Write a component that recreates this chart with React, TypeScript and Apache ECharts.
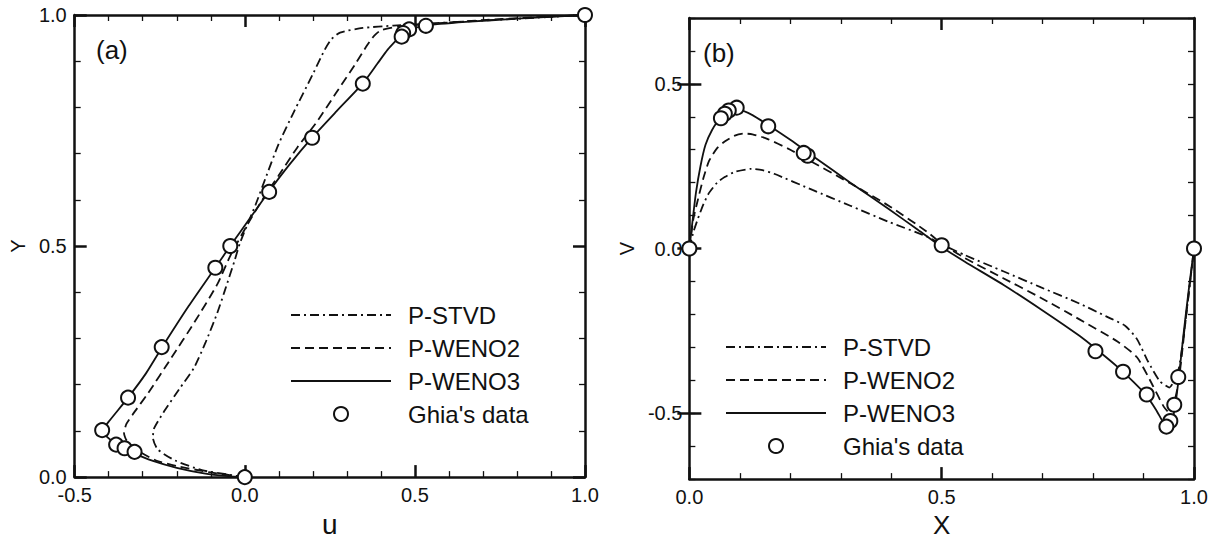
import React, { useEffect, useRef } from "react";
import * as echarts from "echarts";

// ---------- Panel (a): u along vertical centerline ----------
const ghiaY = [1.0, 0.9766, 0.9688, 0.9609, 0.9531, 0.8516, 0.7344, 0.6172, 0.5, 0.4531, 0.2813, 0.1719, 0.1016, 0.0703, 0.0625, 0.0547, 0.0];
const ghiaU = [1, 0.53236, 0.48296, 0.46547, 0.46101, 0.34682, 0.19791, 0.07156, -0.04272, -0.086636, -0.24427, -0.34323, -0.41933, -0.37827, -0.35344, -0.32407, 0];

const stvdAU = [0, -0.026, -0.126, -0.205, -0.256, -0.27, -0.267, -0.239, -0.194, -0.149, -0.115, -0.081, -0.059, -0.031, -0.014, 0.032, 0.06, 0.099, 0.144, 0.2, 0.235, 0.255, 0.28, 0.347, 0.437, 0.6, 0.8, 1];
const stvdAY = [0, 0.003, 0.015, 0.036, 0.06, 0.085, 0.105, 0.14, 0.189, 0.237, 0.292, 0.355, 0.403, 0.466, 0.507, 0.59, 0.645, 0.72, 0.79, 0.872, 0.925, 0.948, 0.962, 0.972, 0.977, 0.984, 0.992, 1];

const weno2AU = [0, -0.1, -0.2, -0.261, -0.32, -0.348, -0.355, -0.348, -0.33, -0.284, -0.216, -0.149, -0.081, -0.042, 0.009, 0.054, 0.099, 0.155, 0.212, 0.268, 0.324, 0.36, 0.38, 0.4, 0.45, 0.55, 0.7, 0.85, 1];
const weno2AY = [0, 0.01, 0.024, 0.036, 0.06, 0.08, 0.095, 0.115, 0.135, 0.182, 0.258, 0.334, 0.417, 0.48, 0.548, 0.603, 0.652, 0.714, 0.769, 0.831, 0.893, 0.935, 0.955, 0.967, 0.975, 0.981, 0.989, 0.995, 1];

const weno3AU = [0, -0.05, -0.12, -0.2, -0.27, -0.33, -0.375, -0.405, -0.418, -0.4, -0.343, -0.29, -0.243, -0.165, -0.087, -0.043, 0.015, 0.07, 0.13, 0.197, 0.27, 0.347, 0.39, 0.42, 0.445, 0.462, 0.48, 0.53, 0.65, 0.8, 1];
const weno3AY = [0, 0.002, 0.008, 0.02, 0.035, 0.053, 0.07, 0.087, 0.101, 0.12, 0.172, 0.225, 0.281, 0.37, 0.453, 0.5, 0.56, 0.617, 0.675, 0.734, 0.792, 0.852, 0.895, 0.925, 0.945, 0.958, 0.967, 0.977, 0.985, 0.992, 1];

// ---------- Panel (b): v along horizontal centerline ----------
const ghiaX = [1.0, 0.9688, 0.9609, 0.9531, 0.9453, 0.9063, 0.8594, 0.8047, 0.5, 0.2344, 0.2266, 0.1563, 0.0938, 0.0781, 0.0703, 0.0625, 0.0];
const ghiaV = [0, -0.39017, -0.47425, -0.52357, -0.54053, -0.44307, -0.37401, -0.31184, 0.00999, 0.28188, 0.2903, 0.37119, 0.42768, 0.41906, 0.40917, 0.3956, 0];

const stvdBX = [0, 0.008, 0.017, 0.028, 0.039, 0.055, 0.07, 0.09, 0.123, 0.145, 0.168, 0.244, 0.319, 0.395, 0.47, 0.5, 0.546, 0.622, 0.697, 0.773, 0.826, 0.864, 0.887, 0.909, 0.932, 0.951, 0.97, 0.985, 1];
const stvdBV = [0, 0.05, 0.091, 0.135, 0.169, 0.2, 0.217, 0.233, 0.242, 0.238, 0.227, 0.178, 0.13, 0.081, 0.037, 0.013, -0.02, -0.069, -0.118, -0.167, -0.206, -0.235, -0.275, -0.343, -0.402, -0.422, -0.363, -0.196, 0];

const weno2BX = [0, 0.008, 0.017, 0.028, 0.039, 0.055, 0.07, 0.09, 0.107, 0.125, 0.153, 0.2, 0.228, 0.319, 0.395, 0.47, 0.5, 0.546, 0.622, 0.697, 0.773, 0.849, 0.887, 0.917, 0.94, 0.952, 0.962, 0.97, 0.985, 1];
const weno2BV = [0, 0.09, 0.149, 0.215, 0.266, 0.305, 0.325, 0.343, 0.349, 0.347, 0.334, 0.3, 0.276, 0.198, 0.13, 0.052, 0.015, -0.029, -0.09, -0.15, -0.215, -0.283, -0.33, -0.412, -0.48, -0.5, -0.46, -0.4, -0.196, 0];

const weno3BX = [0, 0.006, 0.013, 0.022, 0.032, 0.045, 0.06, 0.08, 0.1, 0.125, 0.156, 0.2, 0.25, 0.319, 0.395, 0.45, 0.5, 0.546, 0.622, 0.697, 0.773, 0.806, 0.849, 0.88, 0.905, 0.925, 0.94, 0.948, 0.956, 0.963, 0.97, 0.98, 0.99, 1];
const weno3BV = [0, 0.08, 0.169, 0.25, 0.315, 0.36, 0.393, 0.413, 0.42, 0.405, 0.375, 0.33, 0.275, 0.2, 0.12, 0.06, 0.005, -0.04, -0.11, -0.185, -0.265, -0.305, -0.36, -0.405, -0.445, -0.49, -0.53, -0.54, -0.525, -0.475, -0.39, -0.25, -0.12, 0];

const seriesNames = ["P-STVD", "P-WENO2", "P-WENO3", "Ghia's data"];
const majorTicksB = [-0.5, 0, 0.5];

const FONT = "'Liberation Sans', Arial, sans-serif";
const BLACK = "#111";

const pairs = (xs: number[], ys: number[]) => xs.map((x, i) => [x, ys[i]]);

const lineSeries = (name: string, xs: number[], ys: number[], dash: any) => ({
  name,
  type: "line",
  data: pairs(xs, ys),
  smooth: 0.2,
  symbol: "none",
  showSymbol: false,
  lineStyle: { color: BLACK, width: 1.8, type: dash },
  itemStyle: { color: BLACK, opacity: 0 },
  z: 2,
});

const ghiaSeries = (xs: number[], ys: number[]) => ({
  name: "Ghia's data",
  type: "scatter",
  data: pairs(xs, ys),
  symbol: "circle",
  symbolSize: 14,
  itemStyle: { color: "#fff", borderColor: BLACK, borderWidth: 2, opacity: 1 },
  z: 5,
});

const mkLine = () => ({ show: true, onZero: false, lineStyle: { color: BLACK, width: 2.5 } });
const mkMajor = () => ({ show: true, inside: true, length: 12, lineStyle: { color: BLACK, width: 2.5 } });
const mkMinor = () => ({ show: true, splitNumber: 5, length: 6, lineStyle: { color: BLACK, width: 1.3 } });
const mkLabel = (show: boolean, margin: number) => ({
  show,
  margin,
  fontSize: 20,
  color: BLACK,
  fontFamily: FONT,
  formatter: (v: number) => v.toFixed(1),
});

const xAxisDef = (min: number, position: string, showLabel: boolean, name?: string, nameSize?: number) => ({
  type: "value",
  min,
  max: 1,
  interval: 0.5,
  position,
  axisLine: mkLine(),
  axisTick: mkMajor(),
  minorTick: mkMinor(),
  splitLine: { show: false },
  minorSplitLine: { show: false },
  axisLabel: mkLabel(showLabel, 8),
  name: name || "",
  nameLocation: "middle",
  nameGap: 23,
  nameTextStyle: { fontSize: nameSize || 26, color: BLACK, fontFamily: FONT },
});

const yAxisA = (position: string, showLabel: boolean) => ({
  type: "value",
  min: 0,
  max: 1,
  interval: 0.5,
  position,
  axisLine: mkLine(),
  axisTick: mkMajor(),
  minorTick: mkMinor(),
  splitLine: { show: false },
  minorSplitLine: { show: false },
  axisLabel: mkLabel(showLabel, 8),
  name: showLabel ? "Y" : "",
  nameLocation: "middle",
  nameGap: 34,
  nameTextStyle: { fontSize: 20, color: BLACK, fontFamily: FONT },
});

const yAxisBMinor = (position: string) => ({
  type: "value",
  min: -0.7,
  max: 0.7,
  interval: 0.1,
  position,
  axisLine: mkLine(),
  axisTick: { show: true, inside: true, length: 6, lineStyle: { color: BLACK, width: 1.3 } },
  splitLine: { show: false },
  axisLabel: { show: false },
});

const yAxisBMajor = (position: string, showLabel: boolean) => ({
  type: "value",
  min: -0.7,
  max: 0.7,
  interval: 0.1,
  position,
  axisLine: { show: false },
  axisTick: { ...mkMajor(), customValues: majorTicksB },
  splitLine: { show: false },
  axisLabel: { ...mkLabel(showLabel, 7), customValues: majorTicksB },
  name: showLabel ? "V" : "",
  nameLocation: "middle",
  nameGap: 37,
  nameTextStyle: { fontSize: 20, color: BLACK, fontFamily: FONT },
});

const legendDef = (left: number, top: number) => ({
  left,
  top,
  orient: "vertical",
  itemWidth: 100,
  itemHeight: 14,
  itemGap: 9,
  selectedMode: false,
  data: seriesNames,
  textStyle: { fontSize: 24, lineHeight: 24, color: BLACK, fontFamily: FONT, padding: [0, 0, 0, 12] },
});

const optionA = {
  animation: false,
  grid: { left: 65, top: 15, width: 520, height: 481 },
  xAxis: [xAxisDef(-0.5, "bottom", true, "u", 28), xAxisDef(-0.5, "top", false)],
  yAxis: [yAxisA("left", true), yAxisA("right", false)],
  legend: legendDef(285, 298),
  graphic: [{ type: "text", left: 96, top: 37, style: { text: "(a)", fontSize: 26, fill: BLACK, fontFamily: FONT } }],
  series: [
    lineSeries("P-STVD", stvdAU, stvdAY, [9, 4, 2, 4]),
    lineSeries("P-WENO2", weno2AU, weno2AY, [9, 5]),
    lineSeries("P-WENO3", weno3AU, weno3AY, "solid"),
    ghiaSeries(ghiaU, ghiaY),
  ],
};

const optionB = {
  animation: false,
  grid: { left: 68, top: 18, width: 517, height: 479 },
  xAxis: [xAxisDef(0, "bottom", true, "X", 26), xAxisDef(0, "top", false)],
  yAxis: [yAxisBMinor("left"), yAxisBMajor("left", true), yAxisBMinor("right"), yAxisBMajor("right", false)],
  legend: legendDef(111, 330),
  graphic: [{ type: "text", left: 94, top: 40, style: { text: "(b)", fontSize: 26, fill: BLACK, fontFamily: FONT } }],
  series: [
    lineSeries("P-STVD", stvdBX, stvdBV, [9, 4, 2, 4]),
    lineSeries("P-WENO2", weno2BX, weno2BV, [9, 5]),
    lineSeries("P-WENO3", weno3BX, weno3BV, "solid"),
    ghiaSeries(ghiaX, ghiaV),
  ],
};

function Panel({ option, left, width }: { option: any; left: number; width: number }) {
  const ref = useRef<HTMLDivElement>(null);
  useEffect(() => {
    if (!ref.current) return;
    const chart = echarts.init(ref.current, undefined, { renderer: "svg" });
    chart.setOption(option);
    return () => chart.dispose();
  }, []);
  return <div ref={ref} style={{ position: "fixed", left, top: 0, width, height: 543 }} />;
}

export default function App() {
  return (
    <div style={{ position: "fixed", left: 0, top: 0, width: 1219, height: 543, background: "#fff" }}>
      <Panel option={optionA} left={0} width={609} />
      <Panel option={optionB} left={609} width={610} />
    </div>
  );
}
